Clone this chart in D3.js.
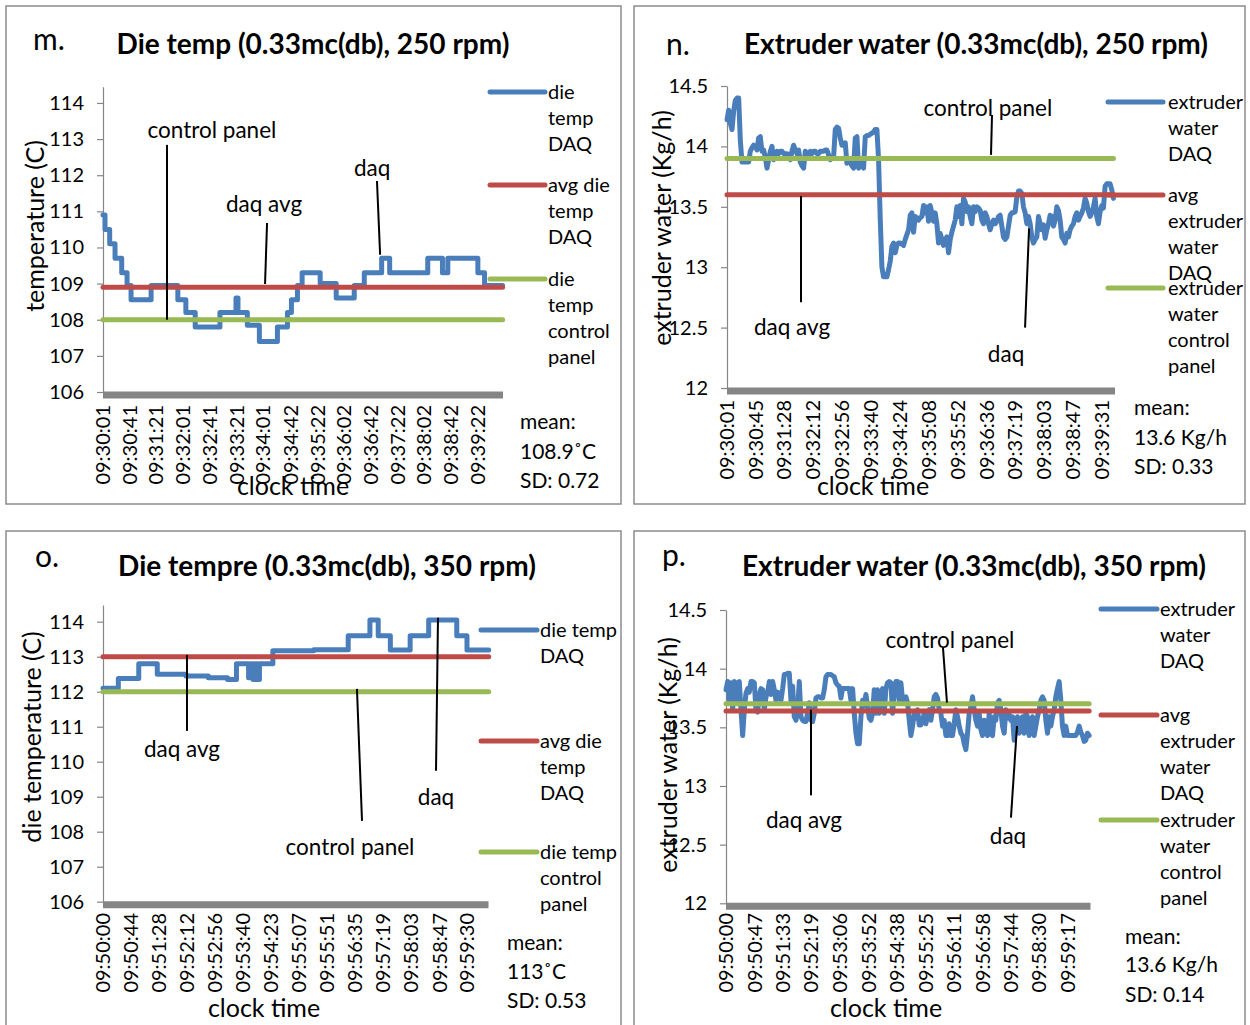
<!DOCTYPE html>
<html>
<head>
<meta charset="utf-8">
<script src="https://cdn.jsdelivr.net/npm/d3@7"></script>
<style>
  body { margin: 0; background: #fff; }
  svg { display: block; }
  text { font-family: Lato, "Open Sans", sans-serif; fill: #000; }
</style>
</head>
<body>
<svg id="chart" width="1250" height="1025"></svg>
<script>
// ---------- data ----------

// m. die temperature, 250 rpm: DAQ readings as [seconds, °C] steps
const mTicks = ["09:30:01","09:30:41","09:31:21","09:32:01","09:32:41","09:33:21","09:34:01","09:34:42",
                "09:35:22","09:36:02","09:36:42","09:37:22","09:38:02","09:38:42","09:39:22"];
const mDaq = [[0,110.9],[3,110.5],[10,110.1],[18,109.7],[28,109.3],[36,108.95],[42,108.55],[72,108.95],
              [112,108.55],[124,108.2],[138,107.8],[175,108.2],[199,108.6],[202,108.2],[216,107.85],
              [234,107.4],[261,107.8],[276,108.2],[282,108.55],[291,108.95],[298,109.3],[325,109.0],
              [349,108.6],[376,108.95],[391,109.3],[417,109.7],[429,109.3],[486,109.7],[508,109.3],
              [516,109.7],[561,109.3],[571,108.95],[598,108.95]];
const mAvg = 108.9, mPanel = 108, mSD = 0.72;
const mSeries = [["die","temp","DAQ"],["avg die","temp","DAQ"],["die","temp","control","panel"]];

// n. extruder water, 250 rpm: DAQ readings (kg/h), one every ~2.5 s
const nTicks = ["09:30:01","09:30:45","09:31:28","09:32:12","09:32:56","09:33:40","09:34:24",
                "09:35:08","09:35:52","09:36:36","09:37:19","09:38:03","09:38:47","09:39:31"];
const nStep = 2.535;
const nDaq = [14.22,14.30,14.19,14.14,14.29,14.38,14.40,14.40,14.05,13.87,13.87,13.87,13.87,13.87,13.96,13.99,
  14.01,14.00,13.97,14.07,14.08,13.96,13.97,13.91,13.82,13.89,13.96,14.00,13.89,13.93,13.96,13.94,
  13.96,13.96,13.94,13.94,13.94,13.91,13.89,13.96,14.01,13.97,13.94,13.97,13.87,13.84,13.82,13.96,
  13.94,13.93,13.96,13.94,13.96,13.96,13.94,13.94,13.96,13.96,13.96,13.97,13.97,13.93,13.89,13.90,
  13.91,14.14,14.16,14.15,14.07,14.01,14.01,14.03,13.86,13.87,13.87,13.84,13.82,14.07,14.08,13.82,
  13.85,13.87,13.82,14.08,14.09,14.09,14.10,14.11,14.12,14.14,14.14,13.89,13.40,13.00,12.92,12.92,
  12.92,12.98,13.05,13.17,13.20,13.12,13.18,13.20,13.20,13.19,13.18,13.23,13.27,13.31,13.43,13.45,
  13.29,13.42,13.41,13.39,13.41,13.42,13.51,13.45,13.50,13.38,13.51,13.45,13.38,13.45,13.36,13.20,
  13.28,13.23,13.18,13.23,13.25,13.12,13.23,13.29,13.34,13.39,13.50,13.42,13.51,13.36,13.57,13.54,
  13.46,13.50,13.42,13.36,13.50,13.46,13.50,13.49,13.47,13.39,13.36,13.45,13.42,13.36,13.31,13.36,
  13.39,13.36,13.38,13.42,13.43,13.34,13.25,13.23,13.25,13.34,13.43,13.45,13.45,13.46,13.58,13.63,
  13.63,13.61,13.50,13.45,13.36,13.42,13.36,13.25,13.20,13.23,13.25,13.42,13.36,13.31,13.35,13.24,
  13.31,13.36,13.43,13.42,13.34,13.39,13.50,13.47,13.39,13.25,13.23,13.20,13.28,13.25,13.31,13.34,
  13.36,13.42,13.45,13.39,13.42,13.45,13.49,13.57,13.53,13.46,13.42,13.45,13.50,13.57,13.42,13.36,
  13.46,13.51,13.49,13.67,13.69,13.69,13.69,13.64,13.57];
const nAvg = 13.6, nPanel = 13.9, nSD = 0.33;
const nSeries = [["extruder","water","DAQ"],["avg","extruder","water","DAQ"],["extruder","water","control","panel"]];

// o. die temperature, 350 rpm: DAQ readings as [seconds, °C] steps
const oTicks = ["09:50:00","09:50:44","09:51:28","09:52:12","09:52:56","09:53:40","09:54:23",
                "09:55:07","09:55:51","09:56:35","09:57:19","09:58:03","09:58:47","09:59:30"];
const oDaq = [[0,112.1],[24,112.38],[56,112.8],[85,112.5],[130,112.45],[165,112.4],[195,112.35],
              [209,112.8],[228,112.4],[231,112.8],[235,112.35],[239,112.8],[242,112.35],[245,112.8],
              [266,113.17],[330,113.2],[384,113.6],[418,114.05],[431,113.6],[450,113.19],[481,113.6],
              [510,114.05],[554,113.6],[570,113.19],[604,113.19]];
const oAvg = 113, oPanel = 112, oSD = 0.53;
const oSeries = [["die temp","DAQ"],["avg die","temp","DAQ"],["die temp","control","panel"]];

// p. extruder water, 350 rpm: DAQ readings (kg/h), one every ~2.7 s
const pTicks = ["09:50:00","09:50:47","09:51:33","09:52:19","09:53:06","09:53:52","09:54:38",
                "09:55:25","09:56:11","09:56:58","09:57:44","09:58:30","09:59:17"];
const pStep = 2.71;
const pDaq = [13.82,13.89,13.73,13.88,13.65,13.89,13.73,13.88,13.89,13.65,13.43,13.65,13.79,13.83,13.80,13.89,
  13.89,13.88,13.65,13.63,13.78,13.83,13.82,13.65,13.76,13.80,13.89,13.78,13.89,13.82,13.73,13.80,
  13.76,13.73,13.83,13.95,13.95,13.96,13.96,13.73,13.85,13.59,13.56,13.65,13.89,13.59,13.56,13.55,
  13.55,13.62,13.71,13.56,13.55,13.62,13.75,13.76,13.76,13.75,13.75,13.82,13.93,13.95,13.95,13.95,
  13.94,13.93,13.88,13.86,13.85,13.75,13.83,13.83,13.83,13.83,13.83,13.73,13.83,13.62,13.45,13.36,
  13.36,13.59,13.73,13.68,13.78,13.68,13.58,13.56,13.62,13.82,13.62,13.82,13.62,13.76,13.83,13.62,
  13.83,13.88,13.89,13.88,13.62,13.79,13.89,13.89,13.73,13.88,13.73,13.75,13.76,13.71,13.56,13.43,
  13.51,13.62,13.58,13.65,13.52,13.52,13.56,13.62,13.53,13.62,13.65,13.56,13.65,13.76,13.78,13.75,
  13.65,13.62,13.51,13.56,13.43,13.43,13.53,13.43,13.43,13.53,13.65,13.59,13.51,13.45,13.43,13.36,
  13.31,13.45,13.62,13.68,13.76,13.65,13.56,13.51,13.62,13.48,13.43,13.56,13.48,13.43,13.62,13.45,
  13.43,13.59,13.56,13.71,13.73,13.65,13.51,13.45,13.65,13.58,13.61,13.56,13.59,13.39,13.51,13.59,
  13.45,13.51,13.59,13.45,13.62,13.59,13.43,13.51,13.59,13.43,13.51,13.59,13.65,13.73,13.76,13.73,
  13.56,13.45,13.59,13.51,13.59,13.65,13.76,13.83,13.89,13.73,13.51,13.43,13.51,13.43,13.43,13.43,
  13.43,13.43,13.43,13.46,13.51,13.46,13.43,13.38,13.39,13.45,13.43];
const pAvg = 13.64, pPanel = 13.7, pSD = 0.14;
const pSeries = [["extruder","water","DAQ"],["avg","extruder","water","DAQ"],["extruder","water","control","panel"]];

// ---------- styling ----------
const COLORS = { daq: "#4a7ebb", avg: "#be4b48", panel: "#98b954", base: "#858585",
                 axis: "#868686", frame: "#8c8c8c" };
const FS = { tick: 20, legend: 20, note: 22.5, stats: 21, axisTitle: 25, title: 28, letter: 30 };

// ---------- panel layout ----------
const panels = [
  { letter: "m.", title: "Die temp (0.33mc(db), 250 rpm)", yTitle: "temperature (C)",
    frame: [6, 6, 615, 498],
    xDom: [0, 598.6], xPx: [103, 503], yDom: [106, 114.45], yPx: [392, 86.7], yTicks: d3.range(106, 114.5, 1),
    yFmt: d3.format("d"), ticks: mTicks, labelTop: 405,
    steps: mDaq, avg: mAvg, panel: mPanel, sd: mSD, meanFmt: d3.format(".1f"), unit: "˚C",
    names: mSeries, legend: { x0: 490, x1: 545, tx: 548, ys: [92, 185, 279] },
    mean: { x: 520, ys: [422, 452, 481] },
    letterPos: [33, 50], titlePos: [313, 54], yTitlePos: [35, 226], xTitlePos: [293, 486],
    notes: [ { text: "control panel", at: [163, 113.26], line: [[95.8, 112.84], [95.8, 108.0]] },
             { text: "daq avg", at: [241, 111.21], line: [[245.5, 110.68], [242.5, 108.99]] },
             { text: "daq", at: [402.7, 112.2], line: [[410, 111.84], [414.7, 109.8]] } ] },
  { letter: "n.", title: "Extruder water (0.33mc(db), 250 rpm)", yTitle: "extruder water (Kg/h)",
    frame: [634, 6, 611, 498],
    xDom: [0, 590.5], xPx: [727, 1115], yDom: [12, 14.5], yPx: [388, 86], yTicks: d3.range(12, 14.6, 0.5),
    yFmt: d3.format("~g"), ticks: nTicks, labelTop: 400,
    values: nDaq, step: nStep, avg: nAvg, panel: nPanel, sd: nSD, meanFmt: d3.format(".1f"), unit: " Kg/h",
    names: nSeries, legend: { x0: 1108, x1: 1163, tx: 1168, ys: [102, 195, 288] },
    mean: { x: 1134, ys: [408, 438, 467] },
    letterPos: [666, 55], titlePos: [976, 54], yTitlePos: [662, 228], xTitlePos: [873, 486],
    notes: [ { text: "control panel", at: [397, 14.32], line: [[403.3, 14.26], [401.8, 13.93]] },
             { text: "daq avg", at: [99, 12.5], line: [[112.6, 13.59], [112.6, 12.71]] },
             { text: "daq", at: [424.7, 12.28], line: [[459.7, 13.32], [453.6, 12.5]] } ] },
  { letter: "o.", title: "Die tempre (0.33mc(db), 350 rpm)", yTitle: "die temperature (C)",
    frame: [6, 531, 615, 520],
    xDom: [0, 603.7], xPx: [103, 488.5], yDom: [106, 114.48], yPx: [901.7, 604.9], yTicks: d3.range(106, 114.5, 1),
    yFmt: d3.format("d"), ticks: oTicks, labelTop: 913,
    steps: oDaq, avg: oAvg, panel: oPanel, sd: oSD, meanFmt: d3.format("d"), unit: "˚C",
    names: oSeries, legend: { x0: 481, x1: 537, tx: 540, ys: [630, 741, 852] },
    mean: { x: 507, ys: [943, 972, 1001] },
    letterPos: [35, 567], titlePos: [327, 576], yTitlePos: [32, 737], xTitlePos: [264, 1008],
    notes: [ { text: "daq avg", at: [123.7, 110.36], line: [[131.5, 113.05], [131.5, 110.88]] },
             { text: "control panel", at: [386.8, 107.56], line: [[397.7, 112.08], [405.6, 108.31]] },
             { text: "daq", at: [521.5, 108.99], line: [[524.6, 114.11], [521.5, 109.74]] } ] },
  { letter: "p.", title: "Extruder water (0.33mc(db), 350 rpm)", yTitle: "extruder water (Kg/h)",
    frame: [634, 531, 611, 520],
    xDom: [0, 593], xPx: [726, 1090.5], yDom: [12, 14.5], yPx: [903.3, 610], yTicks: d3.range(12, 14.6, 0.5),
    yFmt: d3.format("~g"), ticks: pTicks, labelTop: 913,
    values: pDaq, step: pStep, avg: pAvg, panel: pPanel, sd: pSD, meanFmt: d3.format(".1f"), unit: " Kg/h",
    names: pSeries, legend: { x0: 1101, x1: 1157, tx: 1160, ys: [609, 715, 820] },
    mean: { x: 1125, ys: [937, 965, 995] },
    letterPos: [662, 566], titlePos: [974, 576], yTitlePos: [668, 755], xTitlePos: [886, 1008],
    notes: [ { text: "control panel", at: [364.4, 14.24], line: [[353, 14.18], [359.5, 13.71]] },
             { text: "daq avg", at: [126.9, 12.71], line: [[138.3, 13.65], [138.3, 12.92]] },
             { text: "daq", at: [458.8, 12.57], line: [[473.4, 13.51], [463.6, 12.73]] } ] }
];

// ---------- drawing ----------
const svg = d3.select("#chart");
const secs = s => { const [h, m, x] = s.split(":").map(Number); return h * 3600 + m * 60 + x; };

panels.forEach(p => {
  const g = svg.append("g");
  const x = d3.scaleLinear().domain(p.xDom).range(p.xPx);
  const y = d3.scaleLinear().domain(p.yDom).range(p.yPx);
  const [fx, fy, fw, fh] = p.frame;

  g.append("rect").attr("x", fx).attr("y", fy).attr("width", fw).attr("height", fh)
    .attr("fill", "none").attr("stroke", COLORS.frame).attr("stroke-width", 1.5);

  // y axis
  const ax = g.append("g").attr("transform", `translate(${p.xPx[0]},0)`)
    .call(d3.axisLeft(y).tickValues(p.yTicks).tickFormat(p.yFmt).tickSize(6).tickSizeOuter(0).tickPadding(13));
  ax.select(".domain").attr("stroke", COLORS.axis).attr("stroke-width", 1.2);
  ax.selectAll(".tick line").attr("stroke", COLORS.axis).attr("stroke-width", 1.2);
  ax.selectAll(".tick text").attr("font-size", FS.tick).attr("font-family", null).attr("fill", "#000");

  // DAQ series
  let pts, curve;
  if (p.steps) { pts = p.steps; curve = d3.curveStepAfter; }
  else { pts = p.values.map((v, i) => [i * p.step, v]); curve = d3.curveLinear; }
  const tEnd = pts[pts.length - 1][0];
  const line = d3.line().x(d => x(d[0])).y(d => y(d[1])).curve(curve);
  g.append("path").attr("d", line(pts)).attr("fill", "none").attr("stroke", COLORS.daq)
    .attr("stroke-width", 5).attr("stroke-linejoin", "round").attr("stroke-linecap", "round");

  // average and control-panel levels
  const flat = d3.line().x(d => x(d[0])).y(d => y(d[1]));
  g.append("path").attr("d", flat([[0, p.avg], [tEnd, p.avg]])).attr("stroke", COLORS.avg)
    .attr("stroke-width", 5).attr("stroke-linecap", "round").attr("fill", "none");
  g.append("path").attr("d", flat([[0, p.panel], [tEnd, p.panel]])).attr("stroke", COLORS.panel)
    .attr("stroke-width", 5).attr("stroke-linecap", "round").attr("fill", "none");

  // baseline band along the category axis
  g.append("path").attr("d", flat([[p.xDom[0], p.yDom[0]], [p.xDom[1], p.yDom[0]]]))
    .attr("transform", "translate(0,3)")
    .attr("stroke", COLORS.base).attr("stroke-width", 7).attr("fill", "none");

  // time labels
  g.selectAll(".tl").data(p.ticks).join("text")
    .attr("transform", d => `translate(${x(secs(d) - secs(p.ticks[0]))},${p.labelTop}) rotate(-90)`)
    .attr("text-anchor", "end").attr("dy", "0.35em").attr("font-size", FS.tick).text(d => d);

  // titles
  g.append("text").attr("x", p.letterPos[0]).attr("y", p.letterPos[1]).attr("font-size", FS.letter).text(p.letter);
  g.append("text").attr("x", p.titlePos[0]).attr("y", p.titlePos[1]).attr("text-anchor", "middle")
    .attr("font-size", FS.title).attr("font-weight", "bold").text(p.title);
  g.append("text").attr("transform", `translate(${p.yTitlePos[0]},${p.yTitlePos[1]}) rotate(-90)`)
    .attr("text-anchor", "middle").attr("dy", "0.35em").attr("font-size", FS.axisTitle).text(p.yTitle);
  g.append("text").attr("x", p.xTitlePos[0]).attr("y", p.xTitlePos[1]).attr("text-anchor", "middle")
    .attr("dy", "0.35em").attr("font-size", FS.axisTitle).text("clock time");

  // annotations
  p.notes.forEach(n => {
    g.append("path").attr("d", flat(n.line)).attr("stroke", "#000").attr("stroke-width", 2).attr("fill", "none");
    g.append("text").attr("x", x(n.at[0])).attr("y", y(n.at[1])).attr("text-anchor", "middle")
      .attr("dy", "0.35em").attr("font-size", FS.note).text(n.text);
  });

  // legend
  const lc = [COLORS.daq, COLORS.avg, COLORS.panel];
  p.names.forEach((name, i) => {
    const ly = p.legend.ys[i];
    g.append("line").attr("x1", p.legend.x0).attr("x2", p.legend.x1).attr("y1", ly).attr("y2", ly)
      .attr("stroke", lc[i]).attr("stroke-width", 5).attr("stroke-linecap", "round");
    name.forEach((w, k) => g.append("text").attr("x", p.legend.tx).attr("y", ly + k * 26)
      .attr("dy", "0.35em").attr("font-size", FS.legend).text(w));
  });

  // summary statistics
  const stats = ["mean:", p.meanFmt(p.avg) + p.unit, "SD: " + p.sd];
  stats.forEach((s, i) => g.append("text").attr("x", p.mean.x).attr("y", p.mean.ys[i])
    .attr("dy", "0.35em").attr("font-size", FS.stats).text(s));
});
</script>
</body>
</html>
